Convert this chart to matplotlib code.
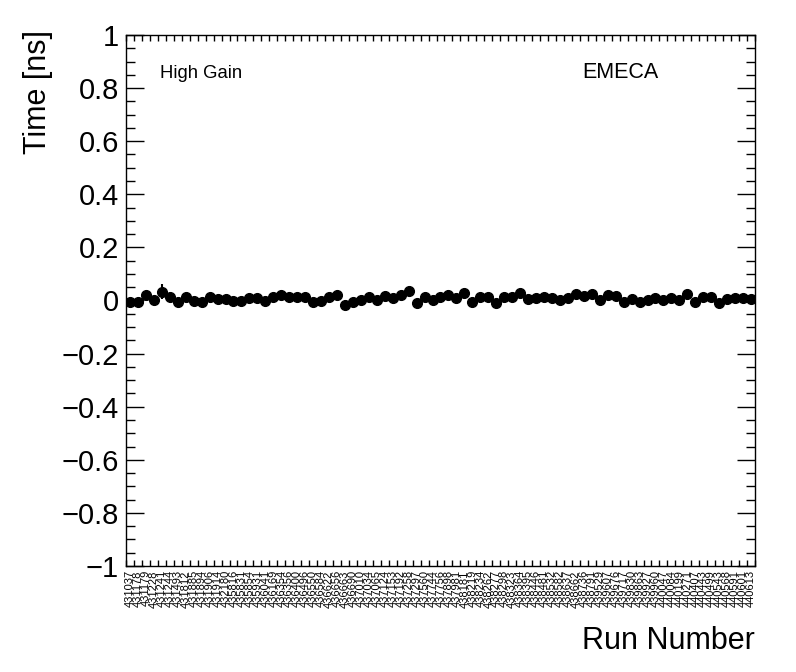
import matplotlib
matplotlib.use("Agg")
import matplotlib.pyplot as plt
import numpy as np
from matplotlib.ticker import MultipleLocator, FixedLocator, FuncFormatter

plt.rcParams['font.family'] = ['Liberation Sans', 'DejaVu Sans']

runs = [431037, 431178, 431179, 431228, 431241, 431244, 431493, 431812, 431885, 431894,
        431906, 431914, 432180, 435816, 435831, 435854, 435931, 436041, 436169, 436354,
        436356, 436400, 436496, 436550, 436584, 436622, 436656, 436663, 436690, 437010,
        437034, 437065, 437124, 437153, 437192, 437258, 437297, 437560, 437744, 437756,
        437898, 437981, 438181, 438219, 438234, 438262, 438277, 438298, 438323, 438364,
        438395, 438446, 438481, 438532, 438582, 438637, 438662, 438736, 438791, 439529,
        439607, 439676, 439717, 439830, 439863, 439927, 439960, 440047, 440084, 440199,
        440271, 440407, 440443, 440499, 440543, 440568, 440591, 440601, 440613]

time_ns = [-0.005, -0.005, 0.021, 0.002, 0.033, 0.014, -0.007, 0.012, -0.001, -0.005,
           0.014, 0.006, 0.006, -0.001, -0.001, 0.008, 0.008, -0.001, 0.012, 0.021,
           0.014, 0.014, 0.012, -0.005, -0.001, 0.014, 0.021, -0.016, -0.005, 0.002,
           0.014, 0.002, 0.017, 0.008, 0.021, 0.036, -0.011, 0.014, 0.002, 0.012,
           0.021, 0.008, 0.027, -0.005, 0.014, 0.012, -0.011, 0.014, 0.012, 0.027,
           0.005, 0.008, 0.015, 0.008, 0.002, 0.008, 0.025, 0.017, 0.025, 0.002,
           0.021, 0.017, -0.007, 0.005, -0.005, 0.002, 0.008, 0.002, 0.010, 0.002,
           0.025, -0.005, 0.012, 0.012, -0.008, 0.005, 0.008, 0.008, 0.005]

time_err = [0.004] * len(runs)
time_err[4] = 0.028
time_err[40] = 0.02
time_err[35] = 0.008

fig = plt.figure(figsize=(7.96, 6.72), dpi=100)
ax = fig.add_axes([126/796, 1-566/672, (755-126)/796, (566-35)/672])

n = len(runs)
x = np.arange(n) + 0.5
ax.errorbar(x, time_ns, yerr=time_err, fmt='o', color='black', markersize=7,
            elinewidth=1.5, capsize=0)

ax.set_xlim(0, n)
ax.set_ylim(-1, 1)

ax.yaxis.set_major_locator(MultipleLocator(0.2))
ax.yaxis.set_minor_locator(MultipleLocator(0.05))
def fmt(v, pos):
    s = f"{v:.1f}".rstrip('0').rstrip('.')
    if s in ("-0", "0."):
        s = "0"
    return s.replace('-', '\u2212')
ax.yaxis.set_major_formatter(FuncFormatter(fmt))
ax.tick_params(axis='y', which='major', direction='in', length=13, width=1,
               left=True, right=True, labelsize=21, pad=5)
ax.tick_params(axis='y', which='minor', direction='in', length=6.5, width=1,
               left=True, right=True)

ax.xaxis.set_major_locator(FixedLocator(x))
ax.set_xticklabels([str(r) for r in runs], rotation=90, fontsize=8)
ax.xaxis.set_minor_locator(FixedLocator(np.arange(n + 1)))
ax.tick_params(axis='x', which='major', length=0, pad=3)
ax.tick_params(axis='x', which='minor', direction='in', length=4.5, width=1,
               bottom=True, top=True)

for s in ax.spines.values():
    s.set_linewidth(1)

fig.text(38/796, 1-30/672, 'Time [ns]', rotation=90, ha='center', va='top', fontsize=22)
fig.text(755/796, 1-641/672, 'Run Number', ha='right', va='center', fontsize=22)
fig.text(160/796, 1-73/672, 'High Gain', ha='left', va='center', fontsize=13.3)
fig.text(582/796, 1-73/672, 'EMECA', ha='left', va='center', fontsize=15.5)

fig.savefig('out.png', dpi=100)
